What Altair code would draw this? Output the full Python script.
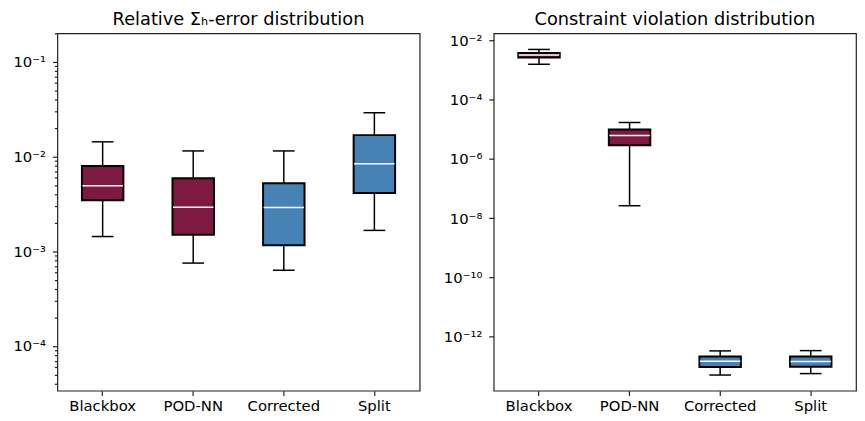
import math
import altair as alt
import pandas as pd

methods = ["Blackbox", "POD-NN", "Corrected", "Split"]
box_colors = ["#7e1a42", "#7e1a42", "#4682b4", "#4682b4"]

# Relative Sigma_h-error distribution (whisker low, Q1, median, Q3, whisker high)
err_low = [0.00143, 0.00075, 0.00063, 0.00166]
err_q1 = [0.00346, 0.00149, 0.00116, 0.00412]
err_med = [0.00492, 0.00292, 0.00290, 0.00840]
err_q3 = [0.00794, 0.00590, 0.00523, 0.01683]
err_high = [0.01430, 0.01146, 0.01146, 0.02900]

# Constraint violation distribution
cv_low = [1.58e-3, 2.65e-8, 5.1e-14, 5.7e-14]
cv_q1 = [2.65e-3, 2.93e-6, 9.5e-14, 9.7e-14]
cv_med = [3.24e-3, 6.2e-6, 1.5e-13, 1.47e-13]
cv_q3 = [3.77e-3, 1.0e-5, 2.16e-13, 2.16e-13]
cv_high = [5.0e-3, 1.71e-5, 3.33e-13, 3.4e-13]

titles = ["Relative Σₕ-error distribution", "Constraint violation distribution"]

# axis ticks
err_domain = [3.37e-5, 0.2]
err_major = [1e-4, 1e-3, 1e-2, 1e-1]
err_major_labels = ["10⁻⁴", "10⁻³", "10⁻²", "10⁻¹"]
err_minor = [m * 10.0 ** k for k in (-5, -4, -3, -2, -1) for m in range(2, 10)
             if err_domain[0] <= m * 10.0 ** k <= err_domain[1]]

cv_domain = [1.51e-14, 0.0175]
cv_major = [1e-12, 1e-10, 1e-8, 1e-6, 1e-4, 1e-2]
cv_major_labels = ["10⁻¹²", "10⁻¹⁰", "10⁻⁸", "10⁻⁶", "10⁻⁴", "10⁻²"]

FONT = "DejaVu Sans"
W, H = 367, 362
IS_MAJOR = "abs(log(datum.value)/LN10 - round(log(datum.value)/LN10)) < 1e-6"


def label_expr(values, labels):
    e = "''"
    for v, lab in zip(values, labels):
        k = round(math.log10(v))
        e = f"(round(log(datum.value)/LN10) == {k} ? '{lab}' : {e})"
    return f"{IS_MAJOR} ? {e} : ''"


def panel(low, q1, med, q3, high, title, domain, major, labels, minor, extent):
    df = pd.DataFrame({"method": methods, "low": low, "q1": q1, "med": med,
                       "q3": q3, "high": high})
    x = alt.X("method:N", sort=methods, title=None,
              scale=alt.Scale(paddingInner=0, paddingOuter=0),
              axis=alt.Axis(labelAngle=0, labelFontSize=15, labelFont=FONT,
                            tickSize=5, labelPadding=3, domain=False))
    yscale = alt.Scale(type="log", domain=domain, nice=False, zero=False)
    yaxis = alt.Axis(values=major + minor, title=None, labelFontSize=15,
                     labelFont=FONT, labelExpr=label_expr(major, labels),
                     tickSize={"condition": {"test": IS_MAJOR, "value": 5}, "value": 3},
                     labelPadding=7, grid=False, domain=False, labelOverlap=False,
                     labelFlush=False, minExtent=extent, maxExtent=extent)
    base = alt.Chart(df)
    whisk = base.mark_rule(color="black", strokeWidth=1.5).encode(
        x=x, y=alt.Y("low:Q", scale=yscale, axis=yaxis), y2="high:Q")
    box = base.mark_bar(size=42, stroke="black", strokeWidth=2).encode(
        x=x, y="q1:Q", y2="q3:Q",
        color=alt.Color("method:N", scale=alt.Scale(domain=methods, range=box_colors), legend=None))
    median = base.mark_tick(color="white", size=41, thickness=1.5, opacity=1).encode(x=x, y="med:Q")
    cap_lo = base.mark_tick(color="black", size=22, thickness=1.5, opacity=1).encode(x=x, y="low:Q")
    cap_hi = base.mark_tick(color="black", size=22, thickness=1.5, opacity=1).encode(x=x, y="high:Q")
    head = alt.Chart(pd.DataFrame({"t": [title]})).mark_text(
        fontSize=18, font=FONT, color="black", align="center", baseline="middle"
    ).encode(x=alt.value(W / 2), y=alt.value(-13), text="t:N")
    return alt.layer(whisk, box, median, cap_lo, cap_hi, head).properties(width=W, height=H)


left = panel(err_low, err_q1, err_med, err_q3, err_high, titles[0], err_domain,
             err_major, err_major_labels, err_minor, 47)
right = panel(cv_low, cv_q1, cv_med, cv_q3, cv_high, titles[1], cv_domain,
              cv_major, cv_major_labels, [], 73)

chart = alt.hconcat(left, right, spacing=0).properties(
    padding={"left": 2, "top": 0, "right": 0, "bottom": 0}
).configure_view(stroke="#222222", strokeWidth=1.2).configure_axis(
    tickColor="#222222", tickWidth=1.2, labelColor="black"
)

chart.save("out.html", embed_options={"renderer": "svg", "actions": False})
